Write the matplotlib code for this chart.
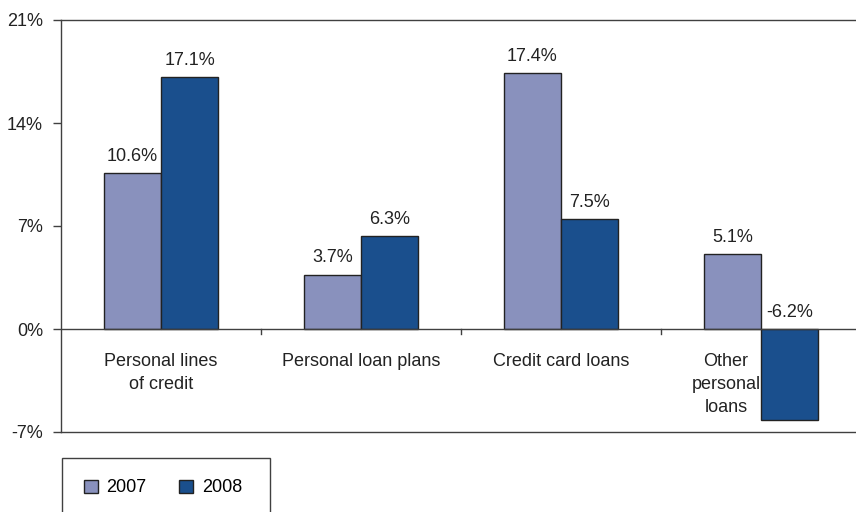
import matplotlib.pyplot as plt
from matplotlib.patches import Rectangle

plt.rcParams['font.family'] = ['Liberation Sans', 'DejaVu Sans']

categories = ['Personal lines\nof credit', 'Personal loan plans',
              'Credit card loans', 'Other\npersonal\nloans']
years = ['2007', '2008']
growth_2007 = [10.6, 3.7, 17.4, 5.1]
growth_2008 = [17.1, 6.3, 7.5, -6.2]
yticks = [-7, 0, 7, 14, 21]

c2007 = '#8991bd'
c2008 = '#1a4f8d'
line_col = '#404040'
txt_col = '#222222'
fs = 13

fig = plt.figure(figsize=(8.56, 5.12), dpi=100)
ax = fig.add_axes([61 / 856, 80 / 512, 800 / 856, 412 / 512])

x = list(range(len(categories)))
w = 0.285
b1 = ax.bar([i - w / 2 for i in x], growth_2007, w, color=c2007,
            edgecolor='#222222', linewidth=1, label=years[0], zorder=2)
b2 = ax.bar([i + w / 2 for i in x], growth_2008, w, color=c2008,
            edgecolor='#222222', linewidth=1, label=years[1], zorder=2)

# value labels, negative ones sit above the zero line
for bars, vals in ((b1, growth_2007), (b2, growth_2008)):
    for rect, v in zip(bars, vals):
        cx = rect.get_x() + rect.get_width() / 2
        ax.text(cx, max(v, 0) + 0.55, f'{v:.1f}%', ha='center', va='bottom',
                fontsize=fs, color=txt_col)

ax.set_xlim(-0.5, len(categories) - 0.5)
ax.set_ylim(-7, 21)
ax.set_yticks(yticks)
ax.set_yticklabels([f'{t}%' for t in yticks], fontsize=fs, color=txt_col)
ax.tick_params(axis='y', direction='out', length=6, width=1, color=line_col, pad=7)
ax.set_xticks([])

for s in ax.spines.values():
    s.set_color(line_col)
    s.set_linewidth(1)

ax.axhline(0, color=line_col, linewidth=1, zorder=3)
# separators between category groups on the zero line
for i in range(len(categories) - 1):
    ax.plot([i + 0.5, i + 0.5], [0, -0.35], color=line_col, linewidth=1,
            clip_on=False)

# category names under the zero line
label_shift = [0, 0, 0, -0.175]
for i, name in enumerate(categories):
    ax.text(i + label_shift[i], -1.65, name, ha='center', va='top',
            fontsize=fs, color=txt_col, linespacing=1.45)

# legend box at the bottom left
fig.patches.append(Rectangle((62 / 856, -0.05), 208 / 856, (54 / 512) + 0.05,
                             transform=fig.transFigure, fill=False,
                             edgecolor=line_col, linewidth=1))
fig.legend(handles=[b1, b2], loc='center left',
           bbox_to_anchor=(84 / 856, 24 / 512), ncol=2, frameon=False,
           fontsize=fs, handlelength=0.75, handleheight=0.75,
           handletextpad=0.5, columnspacing=1.8, borderaxespad=0,
           borderpad=0)

fig.savefig('out.png', dpi=100)
